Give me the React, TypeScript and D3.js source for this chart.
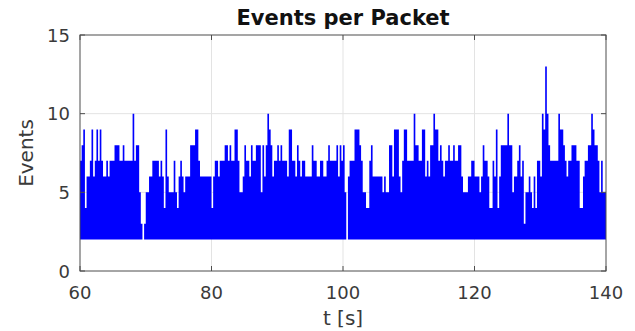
import React from 'react'
import * as d3 from 'd3'

// events per packet, one value every 0.25 s
const events60 = [
  7, 8, 9, 4, 6, 6, 7, 9, 6, 7, 9, 7, 9, 7, 6, 6, 7, 6, 7, 7,
  7, 8, 8, 8, 7, 7, 8, 7, 7, 7, 7, 7, 10, 7, 8, 8, 5, 3, 2, 3,
  5, 5, 6, 6, 7, 7, 7, 7, 6, 7, 6, 4, 9, 6, 5, 5, 5, 7, 5, 4,
  6, 7, 6, 5, 6, 6, 6, 8, 8, 8, 9, 9, 7, 6, 6, 6, 6, 6, 6, 6
]
const events80 = [
  4, 6, 7, 7, 6, 7, 7, 7, 8, 8, 7, 8, 7, 7, 9, 9, 7, 5, 5, 6,
  8, 7, 7, 6, 8, 7, 7, 8, 8, 8, 5, 8, 6, 8, 10, 9, 8, 6, 7, 7,
  8, 7, 8, 7, 7, 7, 6, 9, 9, 7, 7, 6, 8, 7, 6, 7, 7, 6, 6, 6,
  6, 8, 7, 7, 6, 6, 7, 7, 6, 6, 7, 8, 7, 7, 7, 7, 8, 6, 8, 7
]
const events100 = [
  8, 5, 2, 6, 7, 7, 7, 9, 9, 9, 8, 7, 5, 5, 4, 4, 7, 8, 6, 6,
  6, 6, 6, 6, 5, 6, 5, 5, 8, 8, 6, 9, 9, 9, 6, 5, 7, 9, 9, 7,
  7, 7, 7, 10, 8, 8, 7, 7, 9, 9, 6, 7, 6, 8, 8, 10, 9, 9, 7, 8,
  7, 6, 7, 7, 8, 7, 7, 8, 7, 7, 8, 8, 6, 5, 5, 5, 6, 6, 7, 7
]
const events120 = [
  6, 6, 6, 5, 6, 8, 7, 7, 6, 4, 4, 7, 6, 9, 4, 6, 8, 8, 8, 8,
  10, 8, 8, 5, 6, 6, 7, 8, 6, 7, 3, 5, 5, 6, 5, 4, 6, 4, 7, 7,
  6, 10, 9, 13, 10, 8, 7, 7, 7, 7, 7, 10, 9, 9, 8, 7, 6, 7, 7, 8,
  8, 8, 7, 7, 4, 4, 6, 7, 7, 8, 8, 10, 9, 8, 8, 7, 5, 7, 5, 5
]
const minEvents = 2
const tStart = 60
const tStep = 0.25

const xTicks = [60, 80, 100, 120, 140]
const yTicks = [0, 5, 10, 15]

const width = 635
const height = 331
const margin = { top: 35, right: 29, bottom: 60, left: 80 }

const font = '"DejaVu Sans", sans-serif'
const axisColor = '#4d4d4d'
const textColor = '#3a3a3a'

export default function App() {
  const values = [...events60, ...events80, ...events100, ...events120]
  const points = values.map((v, i) => ({ t: tStart + i * tStep, v }))
  points.push({ t: tStart + values.length * tStep, v: values[values.length - 1] })

  const x = d3.scaleLinear().domain([60, 140]).range([margin.left, width - margin.right])
  const y = d3.scaleLinear().domain([0, 15]).range([height - margin.bottom, margin.top])

  const area = d3
    .area<{ t: number; v: number }>()
    .curve(d3.curveStepAfter)
    .x(d => x(d.t))
    .y0(y(minEvents))
    .y1(d => y(d.v))

  const x0 = x(60), x1 = x(140), y0 = y(0), y1 = y(15)
  const tick = 5

  return (
    <svg
      width={width}
      height={height}
      style={{ position: 'absolute', left: 0, top: 0, background: '#fff' }}
    >
      {/* grid */}
      {xTicks.slice(1, -1).map(t => (
        <line key={'gx' + t} x1={x(t)} x2={x(t)} y1={y0} y2={y1} stroke="#e3e3e3" />
      ))}
      {yTicks.slice(1, -1).map(t => (
        <line key={'gy' + t} x1={x0} x2={x1} y1={y(t)} y2={y(t)} stroke="#e3e3e3" />
      ))}

      <path d={area(points) || ''} fill="#0000ff" />

      {/* box + ticks */}
      <rect x={x0} y={y1} width={x1 - x0} height={y0 - y1} fill="none" stroke={axisColor} />
      {xTicks.map(t => (
        <g key={'tx' + t}>
          <line x1={x(t)} x2={x(t)} y1={y0} y2={y0 - tick} stroke={axisColor} />
          <line x1={x(t)} x2={x(t)} y1={y1} y2={y1 + tick} stroke={axisColor} />
          <text x={x(t)} y={y0 + 28} textAnchor="middle" fontFamily={font} fontSize={18} fill={textColor}>
            {t}
          </text>
        </g>
      ))}
      {yTicks.map(t => (
        <g key={'ty' + t}>
          <line x1={x0} x2={x0 + tick} y1={y(t)} y2={y(t)} stroke={axisColor} />
          <line x1={x1} x2={x1 - tick} y1={y(t)} y2={y(t)} stroke={axisColor} />
          <text x={x0 - 10} y={y(t) + 6.5} textAnchor="end" fontFamily={font} fontSize={18} fill={textColor}>
            {t}
          </text>
        </g>
      ))}

      <text x={(x0 + x1) / 2} y={25} textAnchor="middle" fontFamily={font} fontSize={21} fontWeight="bold" fill="#111">
        Events per Packet
      </text>
      <text x={(x0 + x1) / 2} y={y0 + 54} textAnchor="middle" fontFamily={font} fontSize={20} fill={textColor}>
        t [s]
      </text>
      <text
        transform={`translate(33,${(y0 + y1) / 2}) rotate(-90)`}
        textAnchor="middle"
        fontFamily={font}
        fontSize={20}
        fill={textColor}
      >
        Events
      </text>
    </svg>
  )
}
